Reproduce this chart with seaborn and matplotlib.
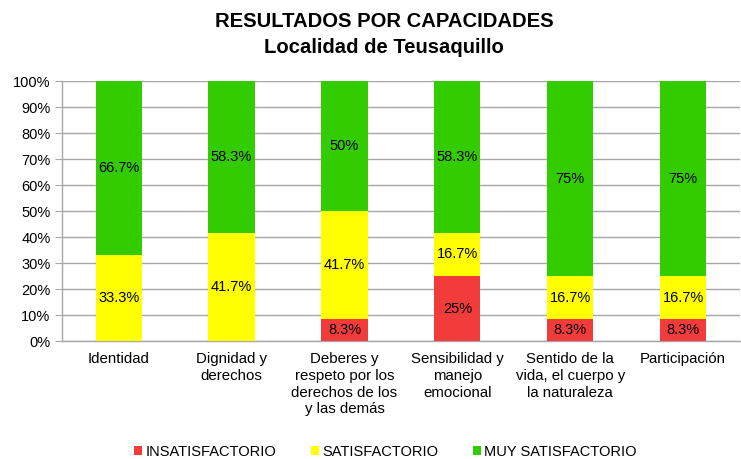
import numpy as np
import pandas as pd
import matplotlib
matplotlib.use("Agg")
import matplotlib.pyplot as plt
import seaborn as sns
from matplotlib.patches import Patch
from matplotlib.ticker import MultipleLocator, PercentFormatter

# Data (percent of each capacity)
categories = [
    "Identidad",
    "Dignidad y\nderechos",
    "Deberes y\nrespeto por los\nderechos de los\ny las demás",
    "Sensibilidad y\nmanejo\nemocional",
    "Sentido de la\nvida, el cuerpo y\nla naturaleza",
    "Participación",
]
insatisfactorio = [0, 0, 8.3, 25, 8.3, 8.3]
satisfactorio = [33.3, 41.7, 41.7, 16.7, 16.7, 16.7]
muy_satisfactorio = [66.7, 58.3, 50, 58.3, 75, 75]

series_names = ["INSATISFACTORIO", "SATISFACTORIO", "MUY SATISFACTORIO"]
series_colors = ["#f23b3b", "#ffff00", "#33cc00"]

sns.set_style("white")
plt.rcParams["font.family"] = ["Liberation Sans", "DejaVu Sans"]
plt.rcParams["text.color"] = "black"
plt.rcParams["xtick.labelcolor"] = "black"
plt.rcParams["ytick.labelcolor"] = "black"

df = pd.DataFrame({
    "cat": categories,
    "ins": insatisfactorio,
    "sat": satisfactorio,
    "muy": muy_satisfactorio,
})
df["c1"] = df["ins"]
df["c2"] = df["ins"] + df["sat"]
df["c3"] = df["c2"] + df["muy"]

fig = plt.figure(figsize=(7.41, 4.59), dpi=100)
ax = fig.add_axes([0.084, 0.257, 0.914, 0.566])

# stacked bars: draw cumulative totals from the top down
for col, color in zip(["c3", "c2", "c1"], series_colors[::-1]):
    sns.barplot(data=df, x="cat", y=col, color=color, width=0.41,
                saturation=1, ax=ax, zorder=3, linewidth=0)

# segment labels
bottoms = np.zeros(len(categories))
for vals in [insatisfactorio, satisfactorio, muy_satisfactorio]:
    for i, v in enumerate(vals):
        if v > 0:
            ax.text(i, bottoms[i] + v / 2, f"{v:g}%", ha="center", va="center",
                    fontsize=10.5, color="black", zorder=4)
    bottoms += np.array(vals)

ax.set_ylim(0, 100)
ax.set_xlim(-0.5, len(categories) - 0.5)
ax.yaxis.set_major_locator(MultipleLocator(10))
ax.yaxis.set_major_formatter(PercentFormatter(decimals=0))
ax.grid(axis="y", color="#a6a6a6", linewidth=1, zorder=0)
ax.set_axisbelow(True)
ax.set_xlabel("")
ax.set_ylabel("")

# x ticks between categories, labels centered under bars
ax.set_xticks(np.arange(len(categories)))
ax.set_xticklabels(categories, fontsize=10.8, linespacing=1.25, va="top")
ax.tick_params(axis="x", length=0, pad=8, labelcolor="black")
ax.set_xticks(np.arange(-0.5, len(categories), 1), minor=True)
ax.tick_params(axis="x", which="minor", length=5, color="#a6a6a6", direction="out")
ax.tick_params(axis="y", labelsize=10.5, length=5, color="#a6a6a6", direction="out",
               left=True, labelcolor="black")

for s in ["top", "right"]:
    ax.spines[s].set_visible(False)
for s in ["left", "bottom"]:
    ax.spines[s].set_color("#a6a6a6")
    ax.spines[s].set_linewidth(1)

fig.text(0.518, 0.953, "RESULTADOS POR CAPACIDADES", ha="center", va="center",
         fontsize=14.6, fontweight="bold", color="black")
fig.text(0.518, 0.897, "Localidad de Teusaquillo", ha="center", va="center",
         fontsize=14.6, fontweight="bold", color="black")

handles = [Patch(facecolor=c, edgecolor="none") for c in series_colors]
leg = fig.legend(handles, series_names, loc="center", bbox_to_anchor=(0.52, 0.016),
                 ncol=3, frameon=False, fontsize=10.5, handlelength=0.55, handleheight=0.55,
                 handletextpad=0.2, columnspacing=2.4)
for t in leg.get_texts():
    t.set_color("black")

fig.savefig("out.png", dpi=100)
